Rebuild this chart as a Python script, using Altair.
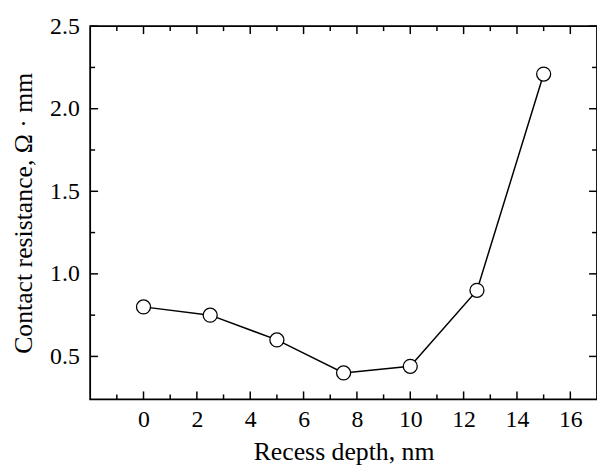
import altair as alt
import pandas as pd

# data
depth = [0, 2.5, 5, 7.5, 10, 12.5, 15]
resistance = [0.80, 0.75, 0.60, 0.40, 0.44, 0.90, 2.21]

x_major = [0, 2, 4, 6, 8, 10, 12, 14, 16]
x_minor = [-1, 1, 3, 5, 7, 9, 11, 13, 15]
y_major = [0.5, 1.0, 1.5, 2.0, 2.5]
y_minor = [0.75, 1.25, 1.75, 2.25]
x_lo, x_hi = -2, 17
y_lo, y_hi = 0.24, 2.5

df = pd.DataFrame({"depth": depth, "res": resistance})

W, H = 512, 377
FONT = "Liberation Serif"
xscale = alt.Scale(domain=[x_lo, x_hi], nice=False, zero=False)
yscale = alt.Scale(domain=[y_lo, y_hi], nice=False, zero=False)

xaxis = alt.Axis(orient="bottom", values=x_major, ticks=False, domain=False,
                 grid=False, labelPadding=8, title="Recess depth, nm",
                 titlePadding=8, labelFontSize=24, titleFontSize=26)
yaxis = alt.Axis(orient="left", values=y_major, ticks=False, domain=False,
                 grid=False, labelPadding=11, format=".1f",
                 title="Contact resistance, Ω · mm", titlePadding=13,
                 labelFontSize=24, titleFontSize=26)


def xticks(values, length, at, inward):
    d = pd.DataFrame({"depth": values, "res": [at] * len(values)})
    return alt.Chart(d).mark_tick(orient="vertical", size=length, thickness=1.5,
                                  color="black", opacity=1,
                                  yOffset=inward * length / 2).encode(
        x=alt.X("depth:Q", scale=xscale, axis=xaxis),
        y=alt.Y("res:Q", scale=yscale, axis=yaxis),
    )


def yticks(values, length, at, inward):
    d = pd.DataFrame({"depth": [at] * len(values), "res": values})
    return alt.Chart(d).mark_tick(orient="horizontal", size=length, thickness=1.5,
                                  color="black", opacity=1,
                                  xOffset=inward * length / 2).encode(
        x=alt.X("depth:Q", scale=xscale, axis=xaxis),
        y=alt.Y("res:Q", scale=yscale, axis=yaxis),
    )


base = alt.Chart(df)

line = base.mark_line(color="black", strokeWidth=1.5).encode(
    x=alt.X("depth:Q", scale=xscale, axis=xaxis),
    y=alt.Y("res:Q", scale=yscale, axis=yaxis),
)

points = base.mark_point(shape="circle", size=200, fill="white", stroke="black",
                         strokeWidth=1.3, opacity=1, fillOpacity=1).encode(
    x=alt.X("depth:Q", scale=xscale, axis=xaxis),
    y=alt.Y("res:Q", scale=yscale, axis=yaxis),
)

layers = [
    xticks(x_major, 8, y_lo, -1), xticks(x_minor, 5, y_lo, -1),
    xticks(x_major, 8, y_hi, 1), xticks(x_minor, 5, y_hi, 1),
    yticks(y_major, 8, x_lo, 1), yticks(y_minor, 5, x_lo, 1),
    yticks(y_major, 8, x_hi, -1), yticks(y_minor, 5, x_hi, -1),
    line, points,
]

chart = alt.layer(*layers).properties(
    width=W, height=H,
    autosize=alt.AutoSizeParams(type="none"),
    padding={"left": 83, "top": 16, "right": 0, "bottom": 67},
).configure_view(stroke="black", strokeWidth=1.8).configure_axis(
    labelFont=FONT, titleFont=FONT,
    labelColor="black", titleColor="black", titleFontWeight="normal",
)

chart.save("out.html", embed_options={"renderer": "svg", "actions": False})
